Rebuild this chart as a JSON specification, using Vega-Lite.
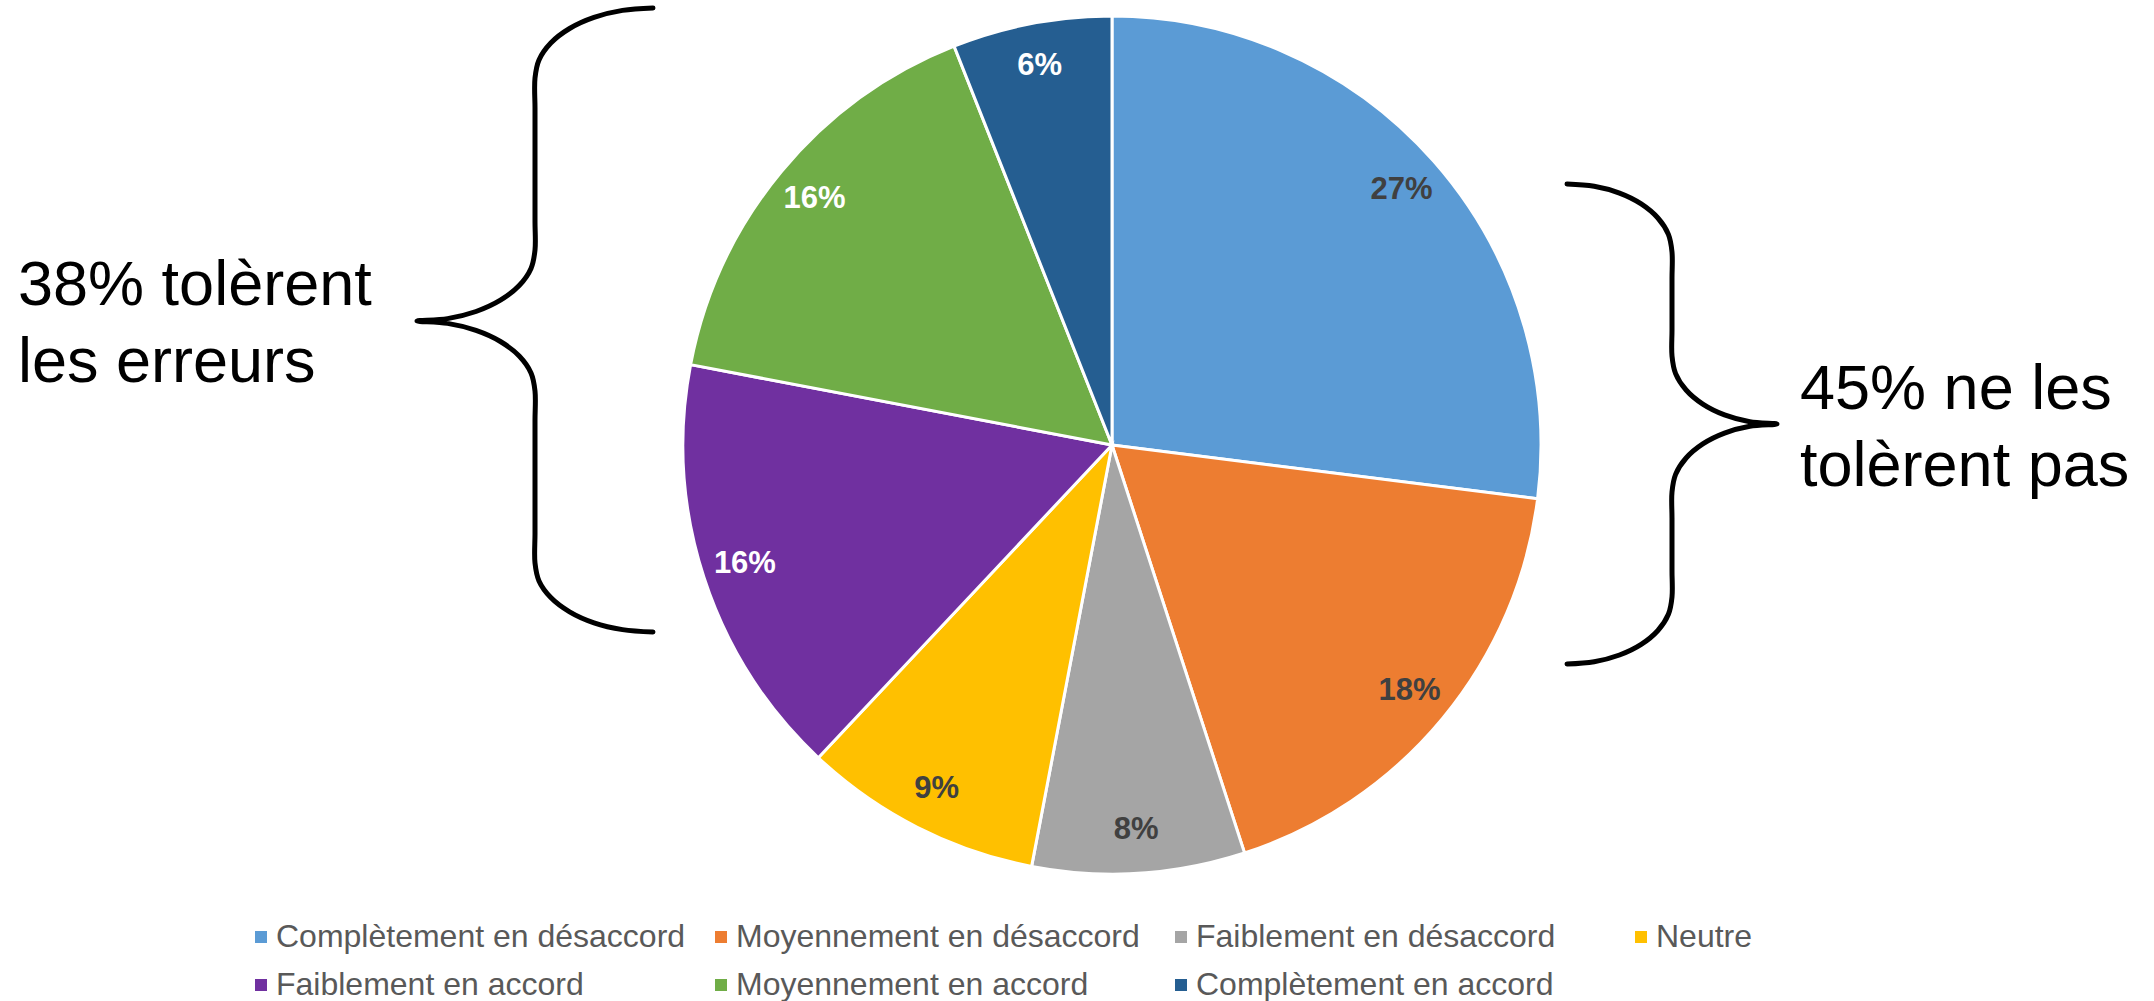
{
  "$schema": "https://vega.github.io/schema/vega-lite/v6.json",
  "width": 2154,
  "height": 1001,
  "autosize": {"type": "none"},
  "padding": 0,
  "background": "white",
  "config": {"view": {"stroke": null}, "font": "Liberation Sans"},
  "datasets": {
    "pie": [
      {"cat": "Complètement en désaccord", "pct": 0.27, "i": 1},
      {"cat": "Moyennement en désaccord", "pct": 0.18, "i": 2},
      {"cat": "Faiblement en désaccord", "pct": 0.08, "i": 3},
      {"cat": "Neutre", "pct": 0.09, "i": 4},
      {"cat": "Faiblement en accord", "pct": 0.16, "i": 5},
      {"cat": "Moyennement en accord", "pct": 0.16, "i": 6},
      {"cat": "Complètement en accord", "pct": 0.06, "i": 7}
    ],
    "braces": [
      {"b": "L", "i": 1, "x": 653, "y": 8},
      {"b": "L", "i": 2, "x": 622.5, "y": 10.4},
      {"b": "L", "i": 3, "x": 594, "y": 17.4},
      {"b": "L", "i": 4, "x": 569.6, "y": 28.5},
      {"b": "L", "i": 5, "x": 550.8, "y": 43},
      {"b": "L", "i": 6, "x": 539, "y": 59.9},
      {"b": "L", "i": 7, "x": 535, "y": 78},
      {"b": "L", "i": 7.1, "x": 535, "y": 108},
      {"b": "L", "i": 7.2, "x": 535, "y": 137},
      {"b": "L", "i": 7.3, "x": 535, "y": 165},
      {"b": "L", "i": 7.4, "x": 535, "y": 193},
      {"b": "L", "i": 7.5, "x": 535, "y": 222},
      {"b": "L", "i": 8, "x": 535, "y": 250},
      {"b": "L", "i": 9, "x": 531, "y": 268.4},
      {"b": "L", "i": 10, "x": 519.2, "y": 285.5},
      {"b": "L", "i": 11, "x": 500.4, "y": 300.2},
      {"b": "L", "i": 12, "x": 476, "y": 311.5},
      {"b": "L", "i": 13, "x": 447.5, "y": 318.6},
      {"b": "L", "i": 14, "x": 417, "y": 321},
      {"b": "L", "i": 15, "x": 447.5, "y": 323.4},
      {"b": "L", "i": 16, "x": 476, "y": 330.4},
      {"b": "L", "i": 17, "x": 500.4, "y": 341.5},
      {"b": "L", "i": 18, "x": 519.2, "y": 356},
      {"b": "L", "i": 19, "x": 531, "y": 372.9},
      {"b": "L", "i": 20, "x": 535, "y": 391},
      {"b": "L", "i": 20.1, "x": 535, "y": 420},
      {"b": "L", "i": 20.2, "x": 535, "y": 448},
      {"b": "L", "i": 20.3, "x": 535, "y": 477},
      {"b": "L", "i": 20.4, "x": 535, "y": 506},
      {"b": "L", "i": 20.5, "x": 535, "y": 534},
      {"b": "L", "i": 21, "x": 535, "y": 563},
      {"b": "L", "i": 22, "x": 539, "y": 580.9},
      {"b": "L", "i": 23, "x": 550.8, "y": 597.5},
      {"b": "L", "i": 24, "x": 569.6, "y": 611.8},
      {"b": "L", "i": 25, "x": 594, "y": 622.8},
      {"b": "L", "i": 26, "x": 622.5, "y": 629.6},
      {"b": "L", "i": 27, "x": 653, "y": 632},
      {"b": "R", "i": 1, "x": 1567, "y": 184},
      {"b": "R", "i": 2, "x": 1594.2, "y": 186.3},
      {"b": "R", "i": 3, "x": 1619.5, "y": 193.1},
      {"b": "R", "i": 4, "x": 1641.2, "y": 203.9},
      {"b": "R", "i": 5, "x": 1657.9, "y": 218},
      {"b": "R", "i": 6, "x": 1668.4, "y": 234.4},
      {"b": "R", "i": 7, "x": 1672, "y": 252},
      {"b": "R", "i": 7.1, "x": 1672, "y": 278},
      {"b": "R", "i": 7.2, "x": 1672, "y": 304},
      {"b": "R", "i": 7.3, "x": 1672, "y": 330},
      {"b": "R", "i": 8, "x": 1672, "y": 356},
      {"b": "R", "i": 9, "x": 1675.6, "y": 373.6},
      {"b": "R", "i": 10, "x": 1686.1, "y": 390},
      {"b": "R", "i": 11, "x": 1702.8, "y": 404.1},
      {"b": "R", "i": 12, "x": 1724.5, "y": 414.9},
      {"b": "R", "i": 13, "x": 1749.8, "y": 421.7},
      {"b": "R", "i": 14, "x": 1777, "y": 424},
      {"b": "R", "i": 15, "x": 1749.8, "y": 426.3},
      {"b": "R", "i": 16, "x": 1724.5, "y": 433.1},
      {"b": "R", "i": 17, "x": 1702.8, "y": 443.9},
      {"b": "R", "i": 18, "x": 1686.1, "y": 458},
      {"b": "R", "i": 19, "x": 1675.6, "y": 474.4},
      {"b": "R", "i": 20, "x": 1672, "y": 492},
      {"b": "R", "i": 20.1, "x": 1672, "y": 518},
      {"b": "R", "i": 20.2, "x": 1672, "y": 545},
      {"b": "R", "i": 20.3, "x": 1672, "y": 571},
      {"b": "R", "i": 21, "x": 1672, "y": 597},
      {"b": "R", "i": 22, "x": 1668.4, "y": 614.3},
      {"b": "R", "i": 23, "x": 1657.9, "y": 630.5},
      {"b": "R", "i": 24, "x": 1641.2, "y": 644.4},
      {"b": "R", "i": 25, "x": 1619.5, "y": 655},
      {"b": "R", "i": 26, "x": 1594.2, "y": 661.7},
      {"b": "R", "i": 27, "x": 1567, "y": 664}
    ]
  },
  "layer": [
    {
      "data": {"name": "pie"},
      "mark": {"type": "arc", "outerRadius": 429, "stroke": "white", "strokeWidth": 3},
      "encoding": {
        "x": {"datum": 1112, "type": "quantitative", "scale": {"domain": [0, 2154], "nice": false, "zero": false}, "axis": null},
        "y": {"datum": 445, "type": "quantitative", "scale": {"domain": [0, 1001], "nice": false, "zero": false, "reverse": true}, "axis": null},
        "theta": {"field": "pct", "type": "quantitative", "stack": true},
        "order": {"field": "i", "type": "quantitative"},
        "color": {
          "field": "cat",
          "type": "nominal",
          "scale": {
            "domain": ["Complètement en désaccord", "Moyennement en désaccord", "Faiblement en désaccord", "Neutre", "Faiblement en accord", "Moyennement en accord", "Complètement en accord"],
            "range": ["#5B9BD5", "#ED7D31", "#A5A5A5", "#FFC000", "#7030A0", "#70AD47", "#255E91"]
          },
          "legend": {
            "title": null,
            "orient": "none",
            "legendX": 245,
            "legendY": 921,
            "direction": "horizontal",
            "columns": 4,
            "gridAlign": "all",
            "columnPadding": 19,
            "rowPadding": 16,
            "padding": 0,
            "symbolType": "square",
            "symbolSize": 144,
            "symbolStrokeWidth": 0,
            "labelFont": "Liberation Sans",
            "labelFontSize": 32,
            "labelColor": "#595959",
            "labelOffset": -1,
            "labelLimit": 1000
          }
        }
      }
    },
    {
      "data": {"name": "pie"},
      "mark": {"type": "text", "radius": 386, "font": "Liberation Sans", "fontSize": 31, "fontWeight": "bold", "align": "center", "baseline": "middle"},
      "encoding": {
        "x": {"datum": 1112, "type": "quantitative"},
        "y": {"datum": 445, "type": "quantitative"},
        "theta": {"field": "pct", "type": "quantitative", "stack": true},
        "order": {"field": "i", "type": "quantitative"},
        "text": {"field": "pct", "type": "quantitative", "format": ".0%"},
        "color": {
          "condition": {"test": "datum.i >= 5", "value": "white"},
          "value": "#404040"
        }
      }
    },
    {
      "data": {"name": "braces"},
      "mark": {"type": "line", "color": "black", "strokeWidth": 5, "strokeCap": "round", "strokeJoin": "round", "interpolate": "catmull-rom"},
      "encoding": {
        "x": {"field": "x", "type": "quantitative"},
        "y": {"field": "y", "type": "quantitative"},
        "detail": {"field": "b"},
        "order": {"field": "i", "type": "quantitative"}
      }
    },
    {
      "data": {"values": [{"t": "38% tolèrent\nles erreurs"}]},
      "mark": {"type": "text", "font": "Liberation Sans", "fontSize": 63, "align": "left", "baseline": "alphabetic", "lineBreak": "\n", "lineHeight": 77, "color": "black"},
      "encoding": {
        "x": {"datum": 18, "type": "quantitative"},
        "y": {"datum": 305, "type": "quantitative"},
        "text": {"field": "t"}
      }
    },
    {
      "data": {"values": [{"t": "45% ne les\ntolèrent pas"}]},
      "mark": {"type": "text", "font": "Liberation Sans", "fontSize": 63, "align": "left", "baseline": "alphabetic", "lineBreak": "\n", "lineHeight": 77, "color": "black"},
      "encoding": {
        "x": {"datum": 1800, "type": "quantitative"},
        "y": {"datum": 409, "type": "quantitative"},
        "text": {"field": "t"}
      }
    }
  ]
}
